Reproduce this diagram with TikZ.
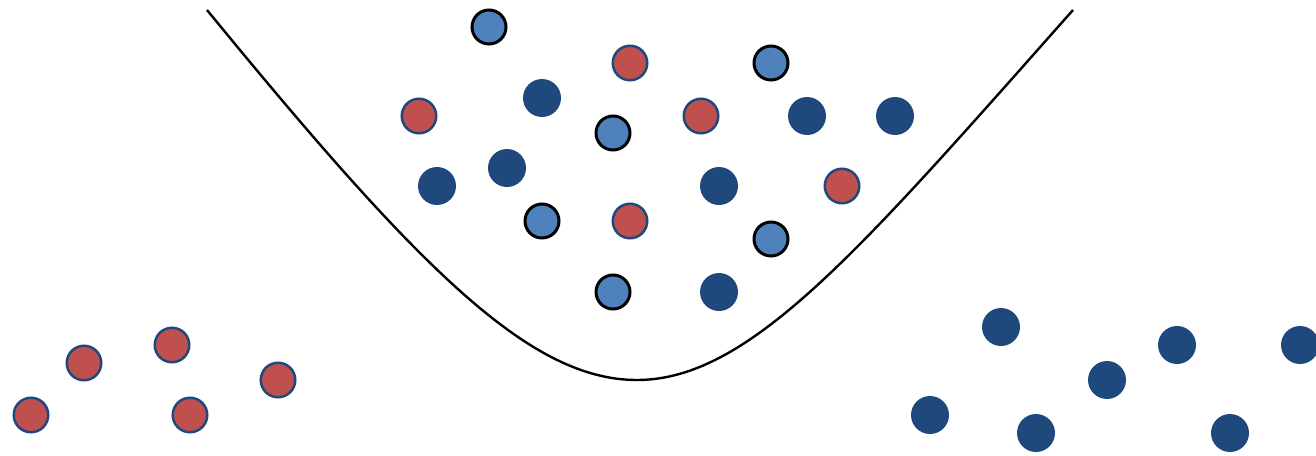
\documentclass[tikz,border=0pt]{standalone}
\definecolor{lblue}{HTML}{4F81BD}
\definecolor{dred}{HTML}{C0504D}
\definecolor{dblue}{HTML}{1F497D}
\begin{document}
\begin{tikzpicture}[x=1pt,y=-1pt,
  pt/.style={circle,inner sep=0pt},
  lb/.style={pt,fill=lblue,draw=black,line width=3pt,minimum size=34pt},
  rd/.style={pt,fill=dred,draw=dblue,line width=2.5pt,minimum size=34.5pt},
  db/.style={pt,fill=dblue,minimum size=38pt},
  boundary/.style={line width=2.4pt,black}]
\useasboundingbox (0,0) rectangle (1316,455);
% light blue
\node[lb] (l1) at (489,27) {};
\node[lb] (l2) at (771,63) {};
\node[lb] (l3) at (613,133) {};
\node[lb] (l4) at (542,221) {};
\node[lb] (l5) at (771,239) {};
\node[lb] (l6) at (613,292) {};
% red inside
\node[rd] (r1) at (630,63) {};
\node[rd] (r2) at (419,116) {};
\node[rd] (r3) at (701,116) {};
\node[rd] (r4) at (842,186) {};
\node[rd] (r5) at (630,221) {};
% red left
\node[rd] (r6) at (31,415) {};
\node[rd] (r7) at (84,363) {};
\node[rd] (r8) at (172,345) {};
\node[rd] (r9) at (190,415) {};
\node[rd] (r10) at (278,380) {};
% dark blue inside
\node[db] (d1) at (542,98) {};
\node[db] (d2) at (807,116) {};
\node[db] (d3) at (895,116) {};
\node[db] (d4) at (437,186) {};
\node[db] (d5) at (507,168) {};
\node[db] (d6) at (719,186) {};
\node[db] (d7) at (719,292) {};
% dark blue right
\node[db] (d8) at (1001,327) {};
\node[db] (d9) at (930,415) {};
\node[db] (d10) at (1036,433) {};
\node[db] (d11) at (1107,380) {};
\node[db] (d12) at (1177,345) {};
\node[db] (d13) at (1230,433) {};
\node[db] (d14) at (1300,345) {};
% boundary curve
\coordinate (cs) at (207,10);
\coordinate (cm) at (637,380);
\coordinate (ce) at (1073,10);
\draw[boundary] (cs) .. controls (420,270) and (530,380) .. (cm)
  .. controls (750,380) and (860,250) .. (ce);
\end{tikzpicture}
\end{document}
